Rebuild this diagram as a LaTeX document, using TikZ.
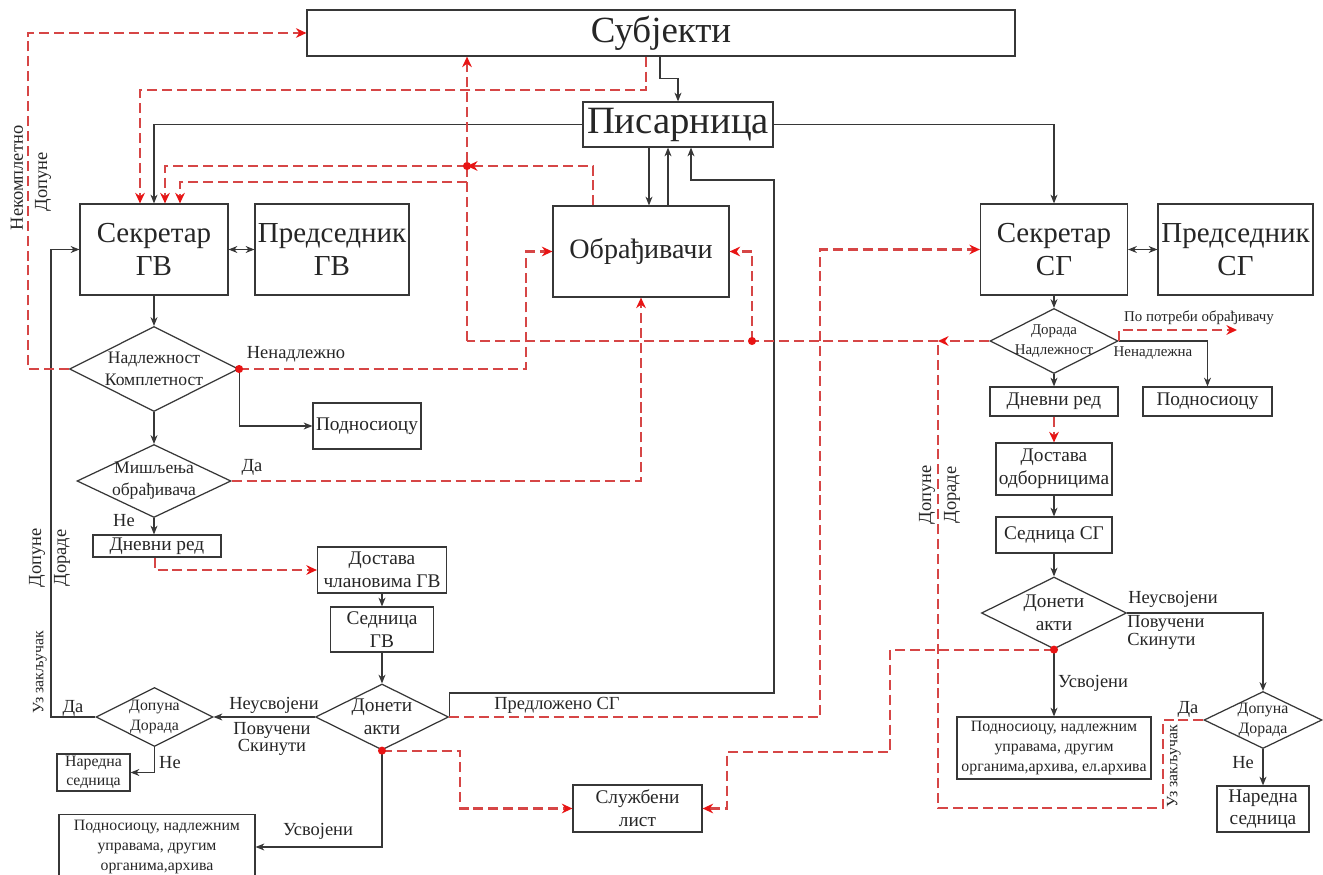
\documentclass[tikz,border=0pt]{standalone}
\usepackage{fontspec}
\setmainfont{Liberation Serif}
\usepackage{tikz}
\usetikzlibrary{shapes.geometric, arrows.meta, positioning}

\definecolor{linered}{RGB}{214,70,70}
\definecolor{tipred}{RGB}{232,20,20}
\definecolor{linegray}{RGB}{55,55,55}

\begin{document}
\begin{tikzpicture}[
    x=0.02cm, y=-0.02cm,
    box/.style={rectangle, draw=linegray, line width=0.7pt, fill=white, align=center, inner sep=1pt, text=black!85},
    decision/.style={diamond, draw=linegray, line width=0.7pt, fill=white, inner sep=0pt},
    dtext/.style={align=center, inner sep=0pt, text=black!85},
    huge/.style={font=\fontsize{21}{24}\selectfont},
    big/.style={font=\fontsize{16.5}{19}\selectfont},
    norm/.style={font=\fontsize{11}{13}\selectfont},
    mid/.style={font=\fontsize{10}{12.5}\selectfont},
    small/.style={font=\fontsize{9}{11.2}\selectfont},
    tiny/.style={font=\fontsize{8.5}{11}\selectfont},
    lbl/.style={inner sep=0pt, font=\fontsize{10.5}{10}\selectfont, text=black!85},
    arrow/.style={draw=linegray, line width=0.65pt, -{Stealth[length=5pt,width=4pt]}},
    twoway/.style={draw=linegray, line width=0.65pt, {Stealth[length=5pt,width=4pt]}-{Stealth[length=5pt,width=4pt]}},
    backline/.style={draw=linered, line width=1.2pt, dash pattern=on 5.7pt off 2.8pt},
    back/.style={backline, -{Stealth[length=6pt,width=5.5pt,color=tipred]}}
]
    \useasboundingbox[fill=white] (0,0) rectangle (1323,875);

    \node[box, huge, minimum width=14.16cm, minimum height=0.92cm] (subj) at (661,33) {Субјекти};
    \node[box, font=\fontsize{22}{24}\selectfont, minimum width=3.8cm, minimum height=0.9cm] (pis) at (678,124.5) {Писарница};
    \node[box, big, minimum width=2.96cm, minimum height=1.82cm] (sekgv) at (154,249.5) {Секретар\\ГВ};
    \node[box, big, minimum width=3.08cm, minimum height=1.82cm] (predgv) at (332,249.5) {Председник\\ГВ};
    \node[box, font=\fontsize{16}{18}\selectfont, minimum width=3.52cm, minimum height=1.82cm] (obr) at (641,251.5) {Обрађивачи};
    \node[box, big, minimum width=2.94cm, minimum height=1.82cm] (seksg) at (1054,249.5) {Секретар\\СГ};
    \node[box, big, minimum width=3.1cm, minimum height=1.82cm] (predsg) at (1235.5,249.5) {Председник\\СГ};

    \node[decision, minimum width=3.38cm, minimum height=1.7cm] (dngv) at (154,369) {};
    \node[dtext, mid] (dngvT) at (dngv) {Надлежност\\Комплетност};
    \node[box, norm, minimum width=2.16cm, minimum height=0.92cm] (podgv) at (367,426) {Подносиоцу};
    \node[decision, minimum width=3.08cm, minimum height=1.46cm] (misl) at (154,481) {};
    \node[dtext, mid] (mislT) at (misl) {Мишљења\\обрађивача};
    \node[box, norm, inner sep=0pt, minimum width=2.56cm, minimum height=0.44cm] (dngv2) at (157,546) {Дневни ред};
    \node[box, norm, minimum width=2.58cm, minimum height=0.92cm] (dostgv) at (382,570) {Достава\\члановима ГВ};
    \node[box, norm, minimum width=2.06cm, minimum height=0.9cm] (sedgv) at (382,629.5) {Седница\\ГВ};
    \node[decision, minimum width=2.66cm, minimum height=1.32cm] (dagv) at (382,717) {};
    \node[dtext, norm] (dagvT) at (dagv) {Донети\\акти};
    \node[decision, minimum width=2.34cm, minimum height=1.18cm] (ddgv) at (154.5,717) {};
    \node[dtext, small] (ddgvT) at (ddgv) {Допуна\\Дорада};
    \node[box, small, minimum width=1.46cm, minimum height=0.74cm] (nsgv) at (93.5,772.5) {Наредна\\седница};
    \node[box, small, minimum width=3.92cm, minimum height=1.3cm] (usvgv) at (157,847) {Подносиоцу, надлежним\\управама, другим\\органима,архива};
    \node[box, norm, minimum width=2.58cm, minimum height=0.94cm] (sluz) at (637.5,808.5) {Службени\\лист};

    \node[decision, minimum width=2.56cm, minimum height=1.3cm] (dsg) at (1054,341) {};
    \node[dtext, tiny] (dsgT) at (dsg) {Дорада\\Надлежност};
    \node[box, norm, minimum width=2.56cm, minimum height=0.58cm] (dnsg) at (1054,401.5) {Дневни ред};
    \node[box, norm, minimum width=2.58cm, minimum height=0.58cm] (podsg) at (1207.5,401.5) {Подносиоцу};
    \node[box, norm, minimum width=2.32cm, minimum height=1.04cm] (dostsg) at (1054,469) {Достава\\одборницима};
    \node[box, norm, minimum width=2.32cm, minimum height=0.72cm] (sedsg) at (1054,535) {Седница СГ};
    \node[decision, minimum width=2.9cm, minimum height=1.44cm] (dasg) at (1054,613) {};
    \node[dtext, norm] (dasgT) at (dasg) {Донети\\акти};
    \node[box, small, minimum width=3.88cm, minimum height=1.24cm] (usvsg) at (1054,748) {Подносиоцу, надлежним\\управама, другим\\органима,архива, ел.архива};
    \node[decision, minimum width=2.36cm, minimum height=1.14cm] (ddsg) at (1263,720) {};
    \node[dtext, small] (ddsgT) at (ddsg) {Допуна\\Дорада};
    \node[box, norm, minimum width=1.84cm, minimum height=0.92cm] (nssg) at (1263,809) {Наредна\\седница};

    \coordinate (jl) at (467,341);
    \coordinate (jm) at (467,182);
    \coordinate (jt) at (467,166);
    \coordinate (jo) at (752,341);
    \coordinate (jr) at (938,341);
    \coordinate (pp) at (1237,330);

    \draw[arrow] (subj.south -| 660,0) -- ++(0,22) -| (pis);
    \draw[arrow] (pis.west) -| (sekgv);
    \draw[arrow] (pis.east) -| (seksg);
    \draw[arrow] (pis.south -| 649,0) -- (obr.north -| 649,0);
    \draw[arrow] (obr.north -| 668,0) -- (pis.south -| 668,0);
    \draw[arrow] (dagv.east) -- ++(0,-24) -| (774,180) -| (pis.south -| 691,0);
    \draw[twoway] (sekgv) -- (predgv);
    \draw[twoway] (seksg) -- (predsg);
    \draw[arrow] (sekgv) -- (dngv);
    \draw[arrow] (dngv.east) |- (podgv);
    \draw[arrow] (dngv) -- (misl);
    \draw[arrow] (misl.south) -- (misl.south |- dngv2.north);
    \draw[arrow] (dostgv) -- (sedgv);
    \draw[arrow] (sedgv) -- (dagv);
    \draw[arrow] (dagv) -- (ddgv);
    \draw[arrow] (ddgv.south) |- (nsgv);
    \draw[arrow] (ddgv.west) -| (sekgv.west -| 51,0) -- (sekgv.west);
    \draw[arrow] (dagv.south) |- (usvgv);

    \draw[arrow] (seksg) -- (dsg);
    \draw[arrow] (dsg) -- (dnsg);
    \draw[arrow] (dsg.east) -| (podsg);
    \draw[arrow] (dostsg) -- (sedsg);
    \draw[arrow] (sedsg) -- (dasg);
    \draw[arrow] (dasg.east) -| (ddsg);
    \draw[arrow] (dasg) -- (usvsg);
    \draw[arrow] (ddsg) -- (nssg);

    \draw[back] (dngv.west) -| (subj.west -| 28,0) -- (subj.west);
    \draw[back] (subj.south -| 646,0) |- (140,90) -- (sekgv.north -| 140,0);
    \draw[back] (jl) -- (subj.south -| 467,0);
    \draw[back] (jm) -| (sekgv.north -| 180,0);
    \draw[back] (obr.north -| 593,0) |- (jt);
    \draw[back] (jt) -| (sekgv.north -| 165,0);
    \draw[back] (dngv.east) -| (obr.west -| 526,0) -- (obr.west);
    \draw[back] (misl.east) -| (obr);
    \draw[back] (jo) |- (obr.east);
    \draw[back] (dsg.west) -- (jr);
    \draw[backline] (jr) -- (jl);
    \draw[back] (dagv.east) -| (seksg.west -| 820,0) -- (seksg.west);
    \draw[back] (dagv.south) -| (sluz.west -| 460,0) -- (sluz.west);
    \draw[back] (dasg.south) -| (890,752) -| (sluz.east -| 727,0) -- (sluz.east);
    \draw[backline] (ddsg.west) -| (1163,808) -| (jr);
    \draw[back] (dsg.east) |- (pp);
    \draw[back] (dnsg) -- (dostsg);
    \draw[back] (dngv2.south -| 155,0) |- (dostgv);

    \foreach \p in {dngv.east, jt, jo, dagv.south, dasg.south}
        \fill[tipred] (\p) circle (2.3pt);

    \node[lbl] (l1) at (296,354) {Ненадлежно};
    \node[lbl] (l2) at (252,467) {Да};
    \node[lbl] (l3) at (124,521) {Не};
    \node[lbl] (l4) at (274,705) {Неусвојени};
    \node[lbl, align=center] (l5) at (272,739) {Повучени\\Скинути};
    \node[lbl] (l6) at (73,708) {Да};
    \node[lbl] (l7) at (170,763) {Не};
    \node[lbl] (l8) at (318,831) {Усвојени};
    \node[lbl] (l9) at (557,705) {Предложено СГ};
    \node[lbl, tiny] (l10) at (1199,318) {По потреби обрађивачу};
    \node[lbl, tiny] (l11) at (1153,353) {Ненадлежна};
    \node[lbl] (l12) at (1173,599) {Неусвојени};
    \node[lbl, align=left, anchor=north west] (l13) at (1127,615) {Повучени\\Скинути};
    \node[lbl] (l14) at (1093,683) {Усвојени};
    \node[lbl] (l15) at (1188,709) {Да};
    \node[lbl] (l16) at (1243,763) {Не};
    \node[lbl, small, rotate=90] (l17) at (1174,766) {Уз закључак};
    \node[lbl, rotate=90] (l18) at (927,495) {Допуне};
    \node[lbl, rotate=90] (l19) at (952,495) {Дораде};
    \node[lbl, small, rotate=90] (l20) at (40,672) {Уз закључак};
    \node[lbl, rotate=90] (l21) at (37,558) {Допуне};
    \node[lbl, rotate=90] (l22) at (62,558) {Дораде};
    \node[lbl, rotate=90] (l23) at (17,178) {Некомплетно};
    \node[lbl, rotate=90] (l24) at (43,182) {Допуне};
\end{tikzpicture}
\end{document}
